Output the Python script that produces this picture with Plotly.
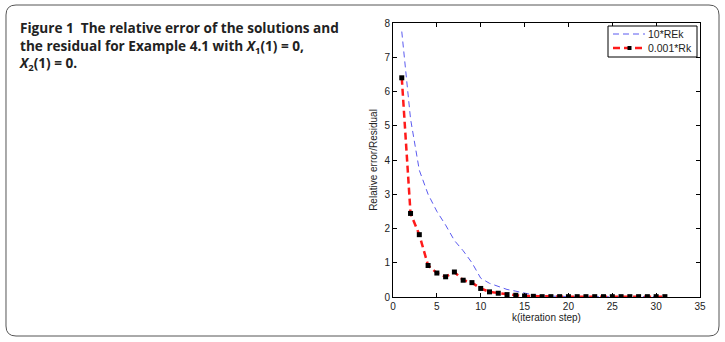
import plotly.graph_objects as go

k = list(range(1, 32))
rek10 = [7.75, 5.2, 3.7, 3.0, 2.5, 2.1, 1.65, 1.35, 1.0, 0.55, 0.4, 0.3, 0.22, 0.17, 0.11,
         0.06, 0.03, 0.02, 0.015, 0.01, 0.01, 0.01, 0.01, 0.01, 0.01, 0.01, 0.01, 0.01, 0.01, 0.01, 0.01]
rk001 = [6.4, 2.44, 1.82, 0.92, 0.70, 0.59, 0.73, 0.49, 0.42, 0.25, 0.15, 0.11, 0.07, 0.05, 0.03,
         0.02, 0.01, 0.01, 0.01, 0.01, 0.01, 0.01, 0.01, 0.01, 0.01, 0.01, 0.01, 0.01, 0.01, 0.01, 0.01]
names = ["10*REk", "0.001*Rk"]

W, H = 725, 342
L, R, T, B = 393, 25, 23, 45
pw, ph = W - L - R, H - T - B

def px(x):
    return (x - L) / pw

def py(y):
    return (H - B - y) / ph

BLUE = "#5b5bf0"
RED = "#ff1a1a"

fig = go.Figure()
fig.add_trace(go.Scatter(x=k, y=rek10, mode="lines", name=names[0], showlegend=False,
                         line=dict(color=BLUE, width=1, dash="6px,4px")))
fig.add_trace(go.Scatter(x=k, y=rk001, mode="lines+markers", name=names[1], showlegend=False,
                         line=dict(color=RED, width=2.5, dash="7px,4px"),
                         marker=dict(symbol="square", size=5, color="black")))

# rounded frame
x0, x1, y0, y1 = 6, 719, 5, 336
r = 10
def P(x, y):
    return f"{px(x):.5f},{py(y):.5f}"
path = (f"M {P(x0 + r, y0)} L {P(x1 - r, y0)} Q {P(x1, y0)} {P(x1, y0 + r)} "
        f"L {P(x1, y1 - r)} Q {P(x1, y1)} {P(x1 - r, y1)} L {P(x0 + r, y1)} "
        f"Q {P(x0, y1)} {P(x0, y1 - r)} L {P(x0, y0 + r)} Q {P(x0, y0)} {P(x0 + r, y0)} Z")
fig.add_shape(type="path", path=path, xref="paper", yref="paper",
              line=dict(color="#555555", width=1))

# legend box (drawn manually for compact MATLAB-like look)
fig.add_shape(type="rect", xref="paper", yref="paper",
              x0=px(608), x1=px(697), y0=py(57), y1=py(26),
              line=dict(color="black", width=1), fillcolor="white", layer="above")
fig.add_shape(type="line", xref="paper", yref="paper",
              x0=px(613), x1=px(645), y0=py(34), y1=py(34),
              line=dict(color=BLUE, width=1, dash="6px,4px"), layer="above")
fig.add_shape(type="line", xref="paper", yref="paper",
              x0=px(613), x1=px(645), y0=py(48), y1=py(48),
              line=dict(color=RED, width=2.5, dash="7px,4px"), layer="above")
fig.add_shape(type="rect", xref="paper", yref="paper",
              x0=px(627.5), x1=px(631.5), y0=py(50), y1=py(46),
              line=dict(width=0), fillcolor="black", layer="above")
for nm, yy in zip(names, [34, 48]):
    fig.add_annotation(text=nm, xref="paper", yref="paper", x=px(646), y=py(yy),
                       xanchor="left", yanchor="middle", showarrow=False,
                       font=dict(family="Liberation Sans", size=10.5, color="#222222"))

fig.add_annotation(
    text=("<b>Figure 1  The relative error of the solutions and<br>"
          "the residual for Example 4.1 with <i>X</i><sub>1</sub>(1) = 0,<br>"
          "<i>X</i><sub>2</sub>(1) = 0.</b>"),
    xref="paper", yref="paper", x=px(17), y=py(16), xanchor="left", yanchor="top",
    align="left", showarrow=False,
    font=dict(family="Open Sans", size=13.6, color="#222222"))

axis_common = dict(showline=True, linecolor="black", linewidth=1, mirror="ticks",
                   ticks="inside", ticklen=4, tickcolor="black", showgrid=False,
                   zeroline=False, tickfont=dict(family="Liberation Sans", size=10, color="#222222"))
fig.update_xaxes(range=[0, 35], dtick=5, title=dict(text="k(iteration step)", standoff=2,
                 font=dict(family="Liberation Sans", size=10, color="#222222")), **axis_common)
fig.update_yaxes(range=[0, 8], dtick=1, title=dict(text="Relative error/Residual", standoff=4,
                 font=dict(family="Liberation Sans", size=10, color="#222222")), **axis_common)

fig.update_layout(
    width=W, height=H, margin=dict(l=L, r=R, t=T, b=B, autoexpand=False),
    paper_bgcolor="white", plot_bgcolor="white", showlegend=False,
)
fig.write_html("out.html")
